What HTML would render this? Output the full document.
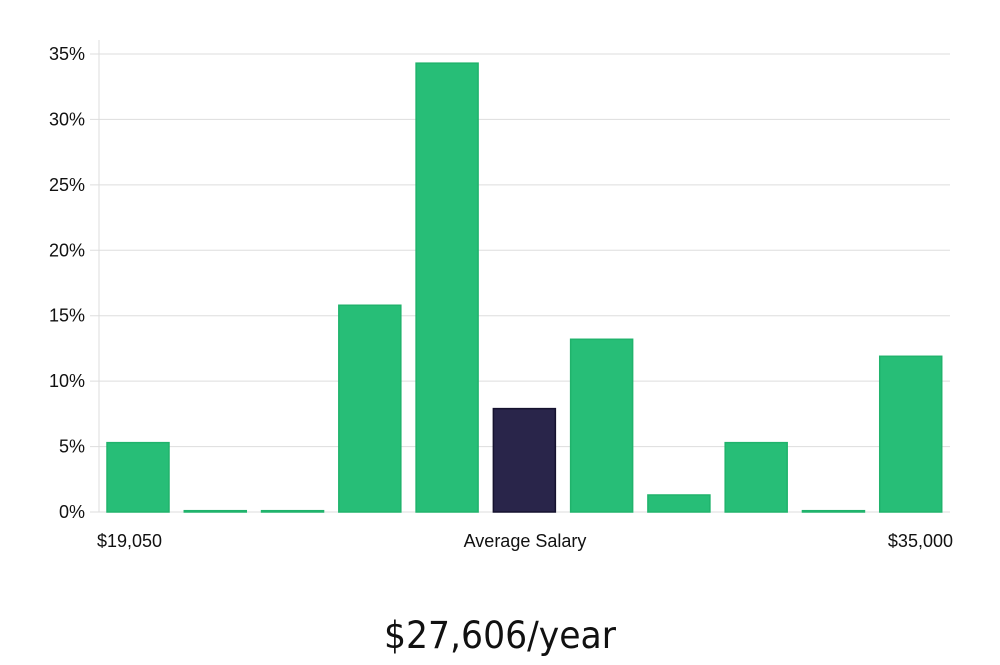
<!DOCTYPE html>
<html><head><meta charset="utf-8"><style>
body{margin:0;background:#fff;width:1000px;height:660px;overflow:hidden;font-family:"Liberation Sans","DejaVu Sans",sans-serif}
</style></head><body>
<svg width="1000" height="660" id="chart">
<g id="grid"></g><g id="bars"></g><g id="labels"></g>
<text x="500" y="648" text-anchor="middle" font-size="37" fill="#111" style="font-family:'DejaVu Sans Condensed','Liberation Sans Narrow','Liberation Sans',sans-serif" textLength="232" lengthAdjust="spacingAndGlyphs">$27,606/year</text>
</svg>
<script>
const categories=["b1","b2","b3","b4","b5","b6","b7","b8","b9","b10","b11"];
const values=[5.3,0.1,0.1,15.8,34.3,7.9,13.2,1.3,5.3,0.1,11.9];
const highlight=[false,false,false,false,false,true,false,false,false,false,false];
const yTicks=[0,5,10,15,20,25,30,35];
const yTickLabels=["0%","5%","10%","15%","20%","25%","30%","35%"];
const xLabels=["$19,050","Average Salary","$35,000"];
const NS="http://www.w3.org/2000/svg";
const x0=100,x1=950,yb=512,yt=54;
const y=v=>yb-(v/35)*(yb-yt);
const slot=(x1-x0)/categories.length;
const xb=i=>x0+i*slot+7;
function mk(t,a,p){const e=document.createElementNS(NS,t);for(const k in a)e.setAttribute(k,a[k]);p.appendChild(e);return e;}
const g=document.getElementById('grid');
let ax=mk('line',{x1:99,x2:99,y1:40,y2:512,stroke:'#ddd'},g);


yTicks.forEach((t,i)=>{
 const l=mk('line',{x1:90,x2:x1,y1:y(t),y2:y(t),stroke:'#ddd'},g);
 
 
 const tx=mk('text',{x:85,y:y(t)+6,'text-anchor':'end','font-size':18,fill:'#111'},g);
 
 
 tx.textContent=yTickLabels[i];
});
const b=document.getElementById('bars');
values.forEach((v,i)=>{
 const r=mk('rect',{x:xb(i),y:y(v),width:62,height:Math.max(1,yb-y(v)),fill:highlight[i]?'#29254a':'#27be77',stroke:highlight[i]?'#15122e':'#20b36c','stroke-width':1.5},b);
 
 
});
const lb=document.getElementById('labels');
[[97,'start'],[525,'middle'],[953,'end']].forEach((p,i)=>{
 const t=mk('text',{x:p[0],y:547,'text-anchor':p[1],'font-size':18,fill:'#111'},lb);
 
 
 t.textContent=xLabels[i];
});
</script>
</body></html>
